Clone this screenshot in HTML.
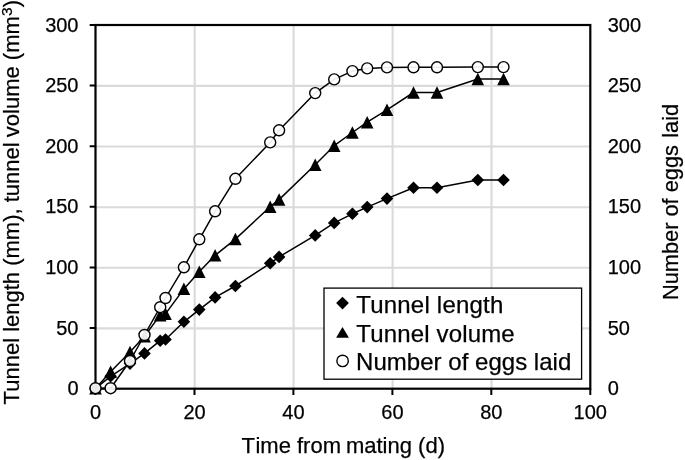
<!DOCTYPE html>
<html><head><meta charset="utf-8"><title>chart</title>
<style>
html,body{margin:0;padding:0;background:#fff;}
body{width:685px;height:460px;overflow:hidden;}
svg{display:block;will-change:transform;opacity:0.999;}
text{font-family:"Liberation Sans",sans-serif;fill:#000;stroke:#000;stroke-width:0.25px;}
.tk{font-size:20px;}
.ax{font-size:22px;}
.lg{font-size:24px;}
</style></head><body>
<svg width="685" height="460" viewBox="0 0 685 460">
<rect width="685" height="460" fill="#fff"/>
<path d="M194.7 25.0V388.7M293.6 25.0V388.7M392.6 25.0V388.7M491.5 25.0V388.7M95.5 328.4H590.3M95.5 267.8H590.3M95.5 207.2H590.3M95.5 146.5H590.3M95.5 85.9H590.3" stroke="#dadada" stroke-width="2.1" fill="none"/>
<g fill="none" stroke="#000" stroke-width="1.5" stroke-linejoin="round"><polyline points="95.5,388.4 110.6,376.3 130.0,363.6 144.5,353.4 160.2,340.7 165.5,339.5 183.9,321.8 199.3,309.6 215.1,297.4 235.4,286.0 270.2,263.3 279.1,256.9 315.2,235.4 334.2,222.9 352.4,213.8 367.2,207.1 387.0,198.6 413.5,187.7 437.0,187.7 477.8,180.0 503.5,180.0"/><polyline points="95.5,388.4 110.6,371.7 130.0,352.0 144.5,336.3 160.2,315.1 165.5,313.9 183.9,288.9 199.3,271.8 215.1,255.3 235.4,239.1 270.2,206.7 279.1,199.6 315.2,164.8 334.2,145.7 352.4,132.5 367.2,122.2 387.0,109.8 413.5,92.5 437.0,92.5 477.8,79.0 503.5,79.0"/><polyline points="95.5,388.2 110.6,388.2 130.0,361.0 144.5,335.0 160.2,307.2 165.5,298.0 183.9,267.3 199.3,239.3 215.1,211.3 235.4,178.8 270.2,142.4 279.1,130.3 315.2,93.1 334.2,79.4 352.4,71.1 367.2,68.4 387.0,67.4 413.5,67.3 437.0,67.3 477.8,67.1 503.5,67.1"/></g>
<path d="M95.5 388.7v6.3M194.5 388.7v6.3M293.4 388.7v6.3M392.4 388.7v6.3M491.3 388.7v6.3M590.3 388.7v6.3M95.5 388.7h-5.8M95.5 328.1h-5.8M95.5 267.5h-5.8M95.5 206.8h-5.8M95.5 146.2h-5.8M95.5 85.6h-5.8M95.5 25.0h-5.8" stroke="#000" stroke-width="2" fill="none"/>
<rect x="95.5" y="25.0" width="494.79999999999995" height="363.7" fill="none" stroke="#000" stroke-width="2.2"/>
<g fill="#000"><path d="M95.5 382.1L101.8 388.4L95.5 394.7L89.2 388.4Z"/><path d="M110.6 370.0L116.9 376.3L110.6 382.6L104.3 376.3Z"/><path d="M130.0 357.3L136.3 363.6L130.0 369.9L123.7 363.6Z"/><path d="M144.5 347.1L150.8 353.4L144.5 359.7L138.2 353.4Z"/><path d="M160.2 334.4L166.5 340.7L160.2 347.0L153.9 340.7Z"/><path d="M165.5 333.2L171.8 339.5L165.5 345.8L159.2 339.5Z"/><path d="M183.9 315.5L190.2 321.8L183.9 328.1L177.6 321.8Z"/><path d="M199.3 303.3L205.6 309.6L199.3 315.9L193.0 309.6Z"/><path d="M215.1 291.1L221.4 297.4L215.1 303.7L208.8 297.4Z"/><path d="M235.4 279.7L241.7 286.0L235.4 292.3L229.1 286.0Z"/><path d="M270.2 257.0L276.5 263.3L270.2 269.6L263.9 263.3Z"/><path d="M279.1 250.6L285.4 256.9L279.1 263.2L272.8 256.9Z"/><path d="M315.2 229.1L321.5 235.4L315.2 241.7L308.9 235.4Z"/><path d="M334.2 216.6L340.5 222.9L334.2 229.2L327.9 222.9Z"/><path d="M352.4 207.5L358.7 213.8L352.4 220.1L346.1 213.8Z"/><path d="M367.2 200.8L373.5 207.1L367.2 213.4L360.9 207.1Z"/><path d="M387.0 192.3L393.3 198.6L387.0 204.9L380.7 198.6Z"/><path d="M413.5 181.4L419.8 187.7L413.5 194.0L407.2 187.7Z"/><path d="M437.0 181.4L443.3 187.7L437.0 194.0L430.7 187.7Z"/><path d="M477.8 173.7L484.1 180.0L477.8 186.3L471.5 180.0Z"/><path d="M503.5 173.7L509.8 180.0L503.5 186.3L497.2 180.0Z"/></g>
<g fill="#000"><path d="M95.5 382.1L101.8 394.6L89.2 394.6Z"/><path d="M110.6 365.4L116.9 377.9L104.3 377.9Z"/><path d="M130.0 345.8L136.3 358.2L123.7 358.2Z"/><path d="M144.5 330.1L150.8 342.6L138.2 342.6Z"/><path d="M160.2 308.9L166.5 321.4L153.9 321.4Z"/><path d="M165.5 307.6L171.8 320.1L159.2 320.1Z"/><path d="M183.9 282.6L190.2 295.1L177.6 295.1Z"/><path d="M199.3 265.6L205.6 278.1L193.0 278.1Z"/><path d="M215.1 249.1L221.4 261.6L208.8 261.6Z"/><path d="M235.4 232.8L241.7 245.3L229.1 245.3Z"/><path d="M270.2 200.4L276.5 212.9L263.9 212.9Z"/><path d="M279.1 193.3L285.4 205.8L272.8 205.8Z"/><path d="M315.2 158.6L321.5 171.1L308.9 171.1Z"/><path d="M334.2 139.4L340.5 151.9L327.9 151.9Z"/><path d="M352.4 126.2L358.7 138.8L346.1 138.8Z"/><path d="M367.2 116.0L373.5 128.4L360.9 128.4Z"/><path d="M387.0 103.5L393.3 116.0L380.7 116.0Z"/><path d="M413.5 86.2L419.8 98.8L407.2 98.8Z"/><path d="M437.0 86.2L443.3 98.8L430.7 98.8Z"/><path d="M477.8 72.8L484.1 85.2L471.5 85.2Z"/><path d="M503.5 72.8L509.8 85.2L497.2 85.2Z"/></g>
<g fill="#fff" fill-opacity="0.92" stroke="#000" stroke-width="1.4"><circle cx="95.5" cy="388.2" r="5.5"/><circle cx="110.6" cy="388.2" r="5.5"/><circle cx="130.0" cy="361.0" r="5.5"/><circle cx="144.5" cy="335.0" r="5.5"/><circle cx="160.2" cy="307.2" r="5.5"/><circle cx="165.5" cy="298.0" r="5.5"/><circle cx="183.9" cy="267.3" r="5.5"/><circle cx="199.3" cy="239.3" r="5.5"/><circle cx="215.1" cy="211.3" r="5.5"/><circle cx="235.4" cy="178.8" r="5.5"/><circle cx="270.2" cy="142.4" r="5.5"/><circle cx="279.1" cy="130.3" r="5.5"/><circle cx="315.2" cy="93.1" r="5.5"/><circle cx="334.2" cy="79.4" r="5.5"/><circle cx="352.4" cy="71.1" r="5.5"/><circle cx="367.2" cy="68.4" r="5.5"/><circle cx="387.0" cy="67.4" r="5.5"/><circle cx="413.5" cy="67.3" r="5.5"/><circle cx="437.0" cy="67.3" r="5.5"/><circle cx="477.8" cy="67.1" r="5.5"/><circle cx="503.5" cy="67.1" r="5.5"/></g>
<rect x="324" y="288.1" width="257.6" height="91.1" fill="#fff" stroke="#000" stroke-width="1.3"/>
<g fill="#000"><path d="M342.5 296.7L348.9 303.1L342.5 309.5L336.1 303.1Z"/><path d="M342.5 327.0L348.9 337.8L336.1 337.8Z"/></g><circle cx="342.6" cy="360.9" r="5.7" fill="#fff" stroke="#000" stroke-width="1.4"/>
<text class="lg" x="356.2" y="312.7" textLength="147.1">Tunnel length</text><text class="lg" x="356.2" y="341.9" textLength="158.5">Tunnel volume</text><text class="lg" x="356.1" y="370.3" textLength="215.2">Number of eggs laid</text>
<text class="tk" x="78.5" y="395.2" text-anchor="end">0</text><text class="tk" x="607.7" y="395.2">0</text><text class="tk" x="78.5" y="334.6" text-anchor="end">50</text><text class="tk" x="607.7" y="334.6">50</text><text class="tk" x="78.5" y="274.0" text-anchor="end">100</text><text class="tk" x="607.7" y="274.0">100</text><text class="tk" x="78.5" y="213.3" text-anchor="end">150</text><text class="tk" x="607.7" y="213.3">150</text><text class="tk" x="78.5" y="152.7" text-anchor="end">200</text><text class="tk" x="607.7" y="152.7">200</text><text class="tk" x="78.5" y="92.1" text-anchor="end">250</text><text class="tk" x="607.7" y="92.1">250</text><text class="tk" x="78.5" y="31.5" text-anchor="end">300</text><text class="tk" x="607.7" y="31.5">300</text><text class="tk" x="95.5" y="418.5" text-anchor="middle">0</text><text class="tk" x="194.5" y="418.5" text-anchor="middle">20</text><text class="tk" x="293.4" y="418.5" text-anchor="middle">40</text><text class="tk" x="392.4" y="418.5" text-anchor="middle">60</text><text class="tk" x="491.3" y="418.5" text-anchor="middle">80</text><text class="tk" x="590.3" y="418.5" text-anchor="middle">100</text>
<text class="ax" x="241.6" y="452.6">T<tspan dx="1.2">ime</tspan> from <tspan dx="-1.2">mating</tspan> (d)</text>
<text class="ax" transform="translate(19.3 404.4) rotate(-90)">Tunnel length (mm), tunnel <tspan dx="-1">volume</tspan> (mm<tspan font-size="15.5px" dy="-7.5" dx="0.2">3</tspan><tspan dy="7.5" dx="0.2">)</tspan></text>
<text class="ax" style="font-size:21.8px" transform="translate(678.1 300.1) rotate(-90)">Number of eggs <tspan dx="1.2">laid</tspan></text>
</svg></body></html>
